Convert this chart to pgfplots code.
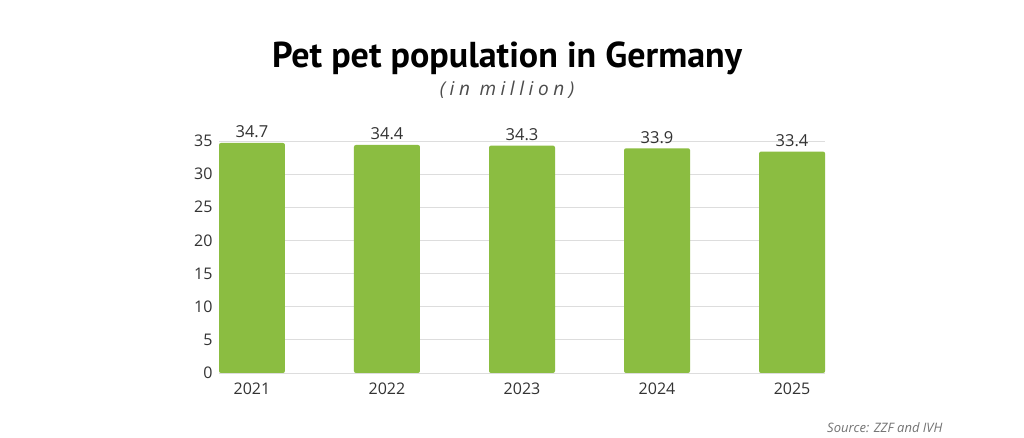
\documentclass[border=0pt]{standalone}
\usepackage{fontspec}
\setmainfont{Open Sans}
\newfontfamily\titlefont{PT Sans}
\usepackage{pgfplots}
\pgfplotsset{compat=1.18}
\definecolor{bargreen}{HTML}{8BBD41}
\definecolor{gridgray}{HTML}{DDDDDD}
\definecolor{txt}{HTML}{333333}
\begin{document}
\begin{tikzpicture}[x=1pt,y=1pt]
\path[use as bounding box,fill=white] (0,0) rectangle (1024,438);
% headline and subtitle
\node[anchor=base,text=black,font=\titlefont\bfseries\fontsize{36}{38}\selectfont] at (507,370) {Pet pet population in Germany};
\node[anchor=base,text=black!70,font=\itshape\fontsize{19}{21}\selectfont\addfontfeature{LetterSpace=24}] at (507,342) {(in million)};
\begin{axis}[
  at={(219pt,65pt)}, anchor=south west,
  scale only axis, width=606pt, height=232pt,
  axis line style={draw=none},
  xmin=-0.244, xmax=4.244,
  ymin=0, ymax=35,
  ytick={0,5,...,35},
  xtick=data,
  xticklabels={2021,2022,2023,2024,2025},
  ymajorgrids, grid style={gridgray, line width=0.8pt},
  major tick length=0pt,
  tick label style={text=txt, font=\fontsize{16}{18}\selectfont},
  yticklabel style={xshift=-3pt},
  xticklabel style={yshift=-6pt},
  ybar, bar width=66pt,
  nodes near coords,
  every node near coord/.append style={text=txt, font=\fontsize{16.5}{18}\selectfont, yshift=1.5pt,
    /pgf/number format/fixed, /pgf/number format/fixed zerofill, /pgf/number format/precision=1},
  /pgf/number format/assume math mode=true,
]
\addplot[fill=bargreen, draw=none, rounded corners=2pt] coordinates {
  (0,34.7) (1,34.4) (2,34.3) (3,33.9) (4,33.4)
};
\end{axis}
\node[anchor=base east,text=black!55,font=\itshape\fontsize{13}{15}\selectfont] at (946,5) {Source: ZZF and IVH};
\end{tikzpicture}
\end{document}
